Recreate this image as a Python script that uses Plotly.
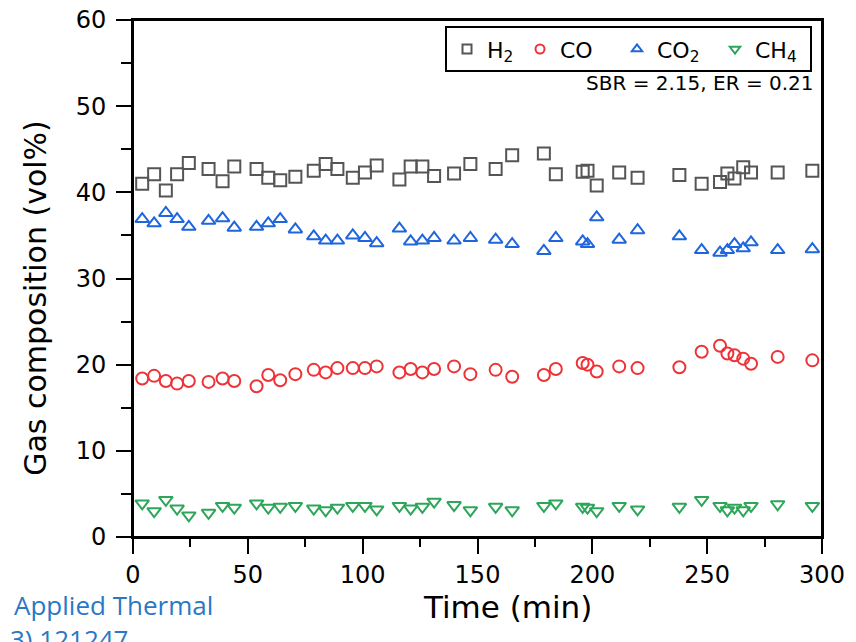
import plotly.graph_objects as go

time_min = [4.0, 9.2, 14.3, 19.2, 24.3, 32.9, 39.0, 44.1, 53.8, 58.9, 64.1, 70.7, 78.7, 83.9,
            89.0, 95.7, 101.0, 106.1, 116.0, 120.9, 126.0, 131.1, 139.8, 146.9, 157.9, 165.1,
            178.9, 184.1, 195.8, 197.9, 201.9, 211.7, 219.7, 237.9, 247.6, 255.6, 258.8, 261.9,
            265.7, 269.1, 280.7, 295.8]

h2 = [41.0, 42.1, 40.2, 42.1, 43.4, 42.7, 41.3, 43.0, 42.7, 41.7, 41.4, 41.8, 42.5, 43.3,
      42.7, 41.7, 42.3, 43.1, 41.5, 43.0, 43.0, 41.9, 42.2, 43.3, 42.7, 44.3, 44.5, 42.1,
      42.4, 42.5, 40.8, 42.3, 41.7, 42.0, 41.0, 41.2, 42.2, 41.6, 42.9, 42.3, 42.3, 42.5]

co = [18.4, 18.7, 18.1, 17.8, 18.1, 18.0, 18.4, 18.1, 17.5, 18.8, 18.2, 18.9, 19.4, 19.1,
      19.6, 19.6, 19.6, 19.8, 19.1, 19.5, 19.1, 19.5, 19.8, 18.9, 19.4, 18.6, 18.8, 19.5,
      20.2, 20.0, 19.2, 19.8, 19.6, 19.7, 21.5, 22.2, 21.3, 21.1, 20.7, 20.1, 20.9, 20.5]

co2 = [36.9, 36.4, 37.6, 36.9, 36.0, 36.7, 37.0, 35.9, 36.0, 36.4, 36.9, 35.7, 34.9, 34.4,
       34.4, 35.0, 34.7, 34.1, 35.8, 34.3, 34.4, 34.7, 34.4, 34.7, 34.5, 34.0, 33.2, 34.7,
       34.3, 34.0, 37.1, 34.5, 35.6, 34.9, 33.3, 33.0, 33.3, 34.0, 33.5, 34.2, 33.3, 33.4]

ch4 = [3.9, 3.0, 4.3, 3.3, 2.5, 2.8, 3.6, 3.4, 3.9, 3.4, 3.5, 3.6, 3.3, 3.1,
       3.4, 3.6, 3.6, 3.2, 3.6, 3.3, 3.5, 4.1, 3.7, 3.1, 3.5, 3.1, 3.6, 3.9,
       3.5, 3.4, 3.0, 3.6, 3.2, 3.5, 4.3, 3.6, 3.1, 3.4, 3.1, 3.6, 3.8, 3.6]

series_names = ["H<sub>2</sub>", "CO", "CO<sub>2</sub>", "CH<sub>4</sub>"]
series_values = [h2, co, co2, ch4]
symbols = ["square-open", "circle-open", "triangle-up-open", "triangle-down-open"]
colors = ["#555555", "#ee3338", "#1f66dd", "#2ea65a"]
sizes = [12, 12, 12, 12]
legend_widths = [28, 52, 53, 50]

x_ticks = [0, 50, 100, 150, 200, 250, 300]
y_ticks = [0, 10, 20, 30, 40, 50, 60]

FONT = "DejaVu Sans"

fig = go.Figure()
for name, vals, sym, col, sz in zip(series_names, series_values, symbols, colors, sizes):
    fig.add_trace(go.Scatter(
        x=time_min, y=vals, mode="markers", name=name, showlegend=False,
        marker=dict(symbol=sym, size=sz, color=col, line=dict(width=2, color=col)),
        cliponaxis=False,
    ))
for name, sym, col, lw in zip(series_names, symbols, colors, legend_widths):
    fig.add_trace(go.Scatter(
        x=[None], y=[None], mode="markers", name=name, showlegend=True, legendwidth=lw,
        marker=dict(symbol=sym, size=9, color=col, line=dict(width=2, color=col)),
    ))

axis_common = dict(
    showline=True, linewidth=2, linecolor="black", mirror=True,
    ticks="outside", tickwidth=2, tickcolor="black", ticklen=15,
    showgrid=False, zeroline=False, automargin=False, ticklabeloverflow="allow",
    tickfont=dict(family=FONT, size=24, color="black"),
)

fig.update_xaxes(range=[0, 300], tickvals=x_ticks, ticktext=[str(v) for v in x_ticks],
                 ticklabelstandoff=0,
                 minor=dict(ticks="outside", ticklen=8, tickwidth=2, tickcolor="black", dtick=25,
                            showgrid=False),
                 **axis_common)
fig.update_yaxes(range=[0, 60], tickvals=y_ticks, ticktext=[str(v) for v in y_ticks],
                 ticklabelstandoff=5,
                 minor=dict(ticks="outside", ticklen=10, tickwidth=2, tickcolor="black", dtick=5,
                            showgrid=False),
                 **axis_common)

fig.add_shape(type="rect", xref="paper", yref="paper", x0=0, y0=0, x1=1, y1=1,
              line=dict(color="black", width=2), fillcolor="rgba(0,0,0,0)", layer="above")

fig.add_annotation(text="Time (min)", xref="paper", yref="paper", x=0.544, y=-0.1345,
                   xanchor="center", yanchor="middle", showarrow=False,
                   font=dict(family=FONT, size=31, color="black"))
fig.add_annotation(text="Gas composition (vol%)", xref="paper", yref="paper", x=-0.142, y=0.463,
                   xanchor="center", yanchor="middle", showarrow=False, textangle=-90,
                   font=dict(family=FONT, size=30, color="black"))
fig.add_annotation(text="SBR = 2.15, ER = 0.21", xref="paper", yref="paper", x=0.9913, y=0.879,
                   xanchor="right", yanchor="middle", showarrow=False,
                   font=dict(family=FONT, size=20, color="black"))
fig.add_annotation(text="Applied Thermal", xref="paper", yref="paper", x=-0.1756, y=-0.131,
                   xanchor="left", yanchor="middle", showarrow=False,
                   font=dict(family="Open Sans", size=26, color="#2a78c4"))
fig.add_annotation(text="3) 121247", xref="paper", yref="paper", x=-0.1814, y=-0.198,
                   xanchor="left", yanchor="middle", showarrow=False,
                   font=dict(family="Open Sans", size=26, color="#2a78c4"))

fig.update_layout(
    width=856, height=642,
    margin=dict(l=125, r=42, t=12, b=113),
    paper_bgcolor="white", plot_bgcolor="white",
    font=dict(family=FONT, color="black"),
    legend=dict(orientation="h", x=0.9855, y=0.988, xanchor="right", yanchor="top",
                bgcolor="white", bordercolor="black", borderwidth=2,
                font=dict(family=FONT, size=22, color="black"),
                itemwidth=30, tracegroupgap=0),
)

fig.write_html("out.html")
